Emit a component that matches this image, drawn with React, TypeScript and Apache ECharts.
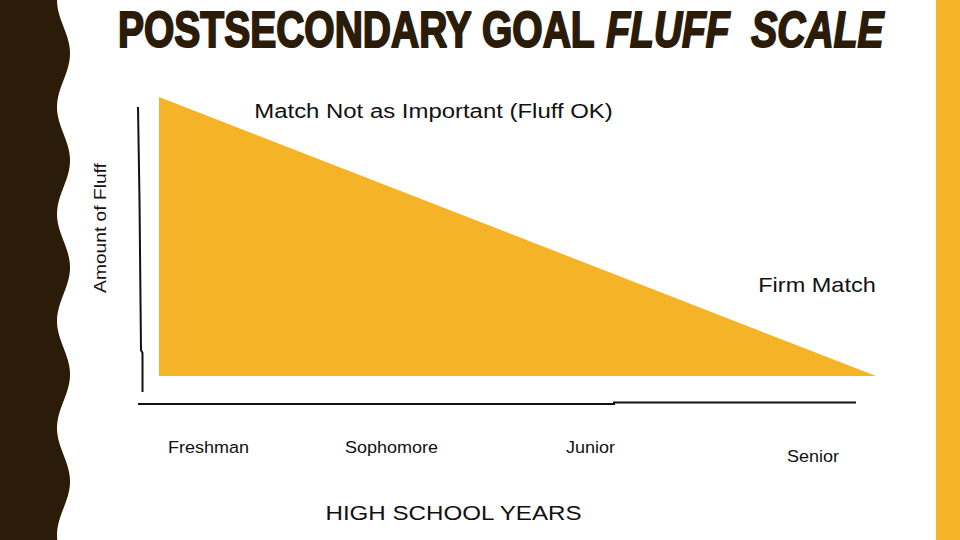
import React, { useEffect, useRef } from "react";
import * as echarts from "echarts";

// ---- data ----
const titleMain = "POSTSECONDARY GOAL ";
const titleItalic = "FLUFF  SCALE";
const yearLabels = ["Freshman", "Sophomore", "Junior", "Senior"];
const axisTitleX = "HIGH SCHOOL YEARS";
const axisTitleY = "Amount of Fluff";
const topNote = "Match Not as Important (Fluff OK)";
const bottomNote = "Firm Match";
const fluffX = [0, 1]; // start of high school -> end of high school
const fluffLevel = [1, 0]; // amount of fluff allowed

// ---- layout (not data) ----
const yearLabelPos = [
  [208.5, 447],
  [391.5, 447],
  [590.5, 447],
  [813, 456],
];

const BROWN = "#2B1C0A";
const ORANGE = "#F5B327";

function wavyEdge(): number[][] {
  const pts: number[][] = [[0, 0]];
  for (let y = 0; y <= 540; y += 2) {
    pts.push([63.5 - 6.5 * Math.cos((2 * Math.PI * y) / 107), y]);
  }
  pts.push([0, 540]);
  return pts;
}

export default function App() {
  const ref = useRef<HTMLDivElement>(null);

  useEffect(() => {
    if (!ref.current) return;
    const chart = echarts.init(ref.current, null, { renderer: "svg" });
    const labelFont = "Liberation Sans, Arial, sans-serif";

    const yearTexts = yearLabels.map((t, i) => ({
      type: "text",
      x: yearLabelPos[i][0],
      y: yearLabelPos[i][1],
      scaleX: 1.06,
      style: {
        text: t,
        x: 0,
        y: 0,
        align: "center",
        verticalAlign: "middle",
        fontSize: 17,
        fontFamily: labelFont,
        fill: "#111",
      },
    }));

    chart.setOption({
      animation: false,
      backgroundColor: "#ffffff",
      grid: { left: 159, right: 84, top: 97, bottom: 164 },
      xAxis: { type: "value", min: 0, max: 1, show: false },
      yAxis: { type: "value", min: 0, max: 1, show: false },
      series: [
        {
          type: "line",
          data: fluffX.map((x, i) => [x, fluffLevel[i]]),
          symbol: "none",
          lineStyle: { width: 0, color: ORANGE },
          areaStyle: { color: ORANGE, opacity: 1 },
          silent: true,
        },
      ],
      graphic: [
        {
          type: "polygon",
          shape: { points: wavyEdge() },
          style: { fill: BROWN },
        },
        {
          type: "rect",
          shape: { x: 936, y: 0, width: 24, height: 540 },
          style: { fill: ORANGE },
        },
        {
          type: "text",
          x: 118,
          y: 30,
          scaleX: 0.78,
          style: {
            text: "{a|" + titleMain + "}{b|" + titleItalic + "}",
            x: 0,
            y: 0,
            align: "left",
            verticalAlign: "middle",
            rich: {
              a: {
                fontSize: 50,
                fontWeight: "bold",
                fontFamily: labelFont,
                fill: BROWN,
                stroke: BROWN,
                lineWidth: 2,
              },
              b: {
                fontSize: 50,
                fontWeight: "bold",
                fontStyle: "italic",
                fontFamily: labelFont,
                fill: BROWN,
                stroke: BROWN,
                lineWidth: 2,
              },
            },
          },
        },
        // hand-drawn axes
        {
          type: "polyline",
          shape: {
            points: [
              [138, 107],
              [139.5, 200],
              [141, 350],
              [142.5, 353],
              [142.5, 392],
            ],
          },
          style: { stroke: "#111", lineWidth: 2, fill: null },
        },
        {
          type: "polyline",
          shape: {
            points: [
              [138, 404],
              [614, 404],
              [614, 402.5],
              [856, 402.5],
            ],
          },
          style: { stroke: "#111", lineWidth: 2, fill: null },
        },
        {
          type: "text",
          x: 433.5,
          y: 111,
          scaleX: 1.14,
          style: {
            text: topNote,
            x: 0,
            y: 0,
            align: "center",
            verticalAlign: "middle",
            fontSize: 21,
            fontFamily: labelFont,
            fill: "#111",
          },
        },
        {
          type: "text",
          x: 817,
          y: 285,
          scaleX: 1.12,
          style: {
            text: bottomNote,
            x: 0,
            y: 0,
            align: "center",
            verticalAlign: "middle",
            fontSize: 21,
            fontFamily: labelFont,
            fill: "#111",
          },
        },
        {
          type: "text",
          x: 100,
          y: 228,
          rotation: Math.PI / 2,
          scaleX: 1.13,
          style: {
            text: axisTitleY,
            x: 0,
            y: 0,
            align: "center",
            verticalAlign: "middle",
            fontSize: 17,
            fontFamily: labelFont,
            fill: "#111",
          },
        },
        {
          type: "text",
          x: 453.5,
          y: 513,
          scaleX: 1.15,
          style: {
            text: axisTitleX,
            x: 0,
            y: 0,
            align: "center",
            verticalAlign: "middle",
            fontSize: 21,
            fontFamily: labelFont,
            fill: "#111",
          },
        },
        ...yearTexts,
      ],
    });

    return () => chart.dispose();
  }, []);

  return (
    <div
      ref={ref}
      style={{ position: "fixed", left: 0, top: 0, width: 960, height: 540 }}
    />
  );
}
